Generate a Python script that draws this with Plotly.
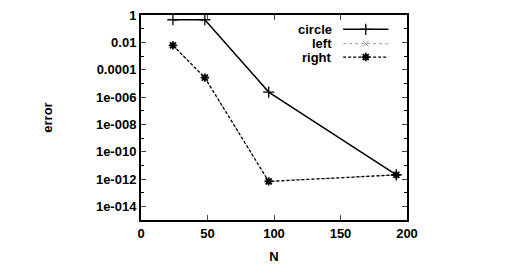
import plotly.graph_objects as go

N = [24, 48, 96, 192]
circle = [0.45, 0.45, 2.3e-6, 2.0e-12]
left = [6.0e-3, 2.6e-5, 6.7e-13, 2.0e-12]
right = [6.0e-3, 2.6e-5, 6.7e-13, 2.0e-12]

ytick_vals = [1, 1e-2, 1e-4, 1e-6, 1e-8, 1e-10, 1e-12, 1e-14]
ytick_text = ["1", "0.01", "0.0001", "1e-006", "1e-008", "1e-010", "1e-012", "1e-014"]
yminor_vals = [1e-1, 1e-3, 1e-5, 1e-7, 1e-9, 1e-11, 1e-13, 1e-15]
xtick_vals = [0, 50, 100, 150, 200]

FONT = dict(family="Liberation Sans, Arial, sans-serif", size=13, color="black", weight="bold")

GRAY = "#999999"
styles = {
    "circle": (dict(color="black", width=1.5),
               dict(symbol="cross-thin-open", size=8, color="black", line=dict(color="black", width=1.3))),
    "left": (dict(color=GRAY, width=1, dash="dot"),
             dict(symbol="x-thin-open", size=6, color=GRAY, line=dict(color=GRAY, width=1))),
    "right": (dict(color="black", width=1.3, dash="3px,2px"),
              dict(symbol="asterisk-open", size=7, color="black", line=dict(color="black", width=1.8))),
}

fig = go.Figure()
for name, vals in [("left", left), ("right", right), ("circle", circle)]:
    ls, ms = styles[name]
    fig.add_trace(go.Scatter(x=N, y=vals, mode="lines+markers", name=name, line=ls, marker=ms))

# manual gnuplot-style key, drawn in an overlay axis in [0,1]
leg_names = ["circle", "left", "right"]
leg_y = [0.93, 0.86, 0.795]
for name, yy in zip(leg_names, leg_y):
    ls, ms = styles[name]
    fig.add_trace(go.Scatter(x=[0.76, 0.93], y=[yy, yy], mode="lines", line=ls,
                             xaxis="x2", yaxis="y2", showlegend=False, hoverinfo="skip"))
    fig.add_trace(go.Scatter(x=[0.845], y=[yy], mode="markers", marker=ms,
                             xaxis="x2", yaxis="y2", showlegend=False, hoverinfo="skip"))
    fig.add_annotation(x=0.725, y=yy, xref="x2", yref="y2", text=name, showarrow=False,
                       xanchor="right", yanchor="middle", font=FONT)

fig.update_layout(
    width=531, height=277,
    margin=dict(l=141, r=124, t=8, b=57),
    paper_bgcolor="white", plot_bgcolor="white",
    showlegend=False,
    font=FONT,
    xaxis=dict(range=[0, 200], tickvals=xtick_vals, ticks="inside", ticklen=5, tickwidth=1.3,
               showline=True, linecolor="black", linewidth=2, mirror="allticks",
               showgrid=False, zeroline=False, tickfont=FONT,
               title=dict(text="N", font=FONT, standoff=12)),
    yaxis=dict(type="log", range=[-15, 0], tickvals=ytick_vals, ticktext=ytick_text,
               ticks="inside", ticklen=5, tickwidth=1.3,
               minor=dict(tickvals=yminor_vals, ticks="inside", ticklen=3, tickwidth=1.3, tickcolor="black"),
               showline=True, linecolor="black", linewidth=2, mirror="allticks",
               showgrid=False, zeroline=False, tickfont=FONT,
               title=dict(text="error", font=FONT, standoff=40)),
    xaxis2=dict(range=[0, 1], overlaying="x", visible=False),
    yaxis2=dict(range=[0, 1], overlaying="y", visible=False),
)

fig.write_html("out.html")
